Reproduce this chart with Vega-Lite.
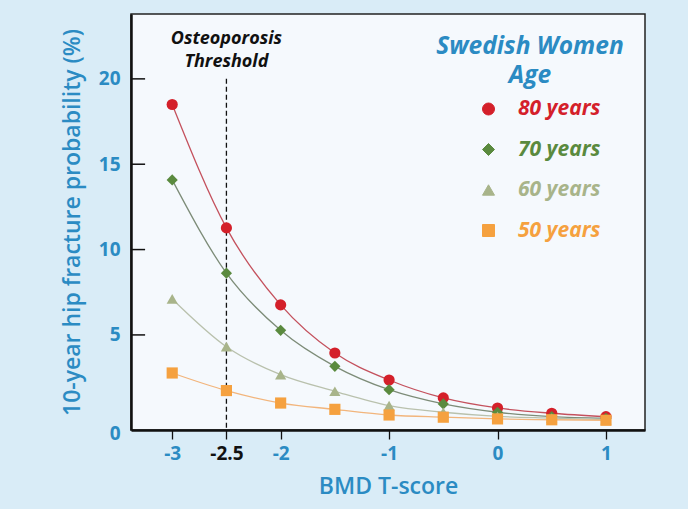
{
  "$schema": "https://vega.github.io/schema/vega-lite/v6.json",
  "autosize": "none",
  "width": 514,
  "height": 416,
  "padding": {"left": 131, "top": 14, "right": 43, "bottom": 79},
  "background": "#d9ecf7",
  "config": {
    "view": {"fill": "#f5f9fd", "stroke": "#222222", "strokeWidth": 1.5},
    "font": "Open Sans"
  },
  "datasets": {
    "curves": [
      {"t": -3, "p": 18.5, "age": "80 years"}, {"t": -2.5, "p": 11.27, "age": "80 years"}, {"t": -2, "p": 6.76, "age": "80 years"}, {"t": -1.5, "p": 3.94, "age": "80 years"}, {"t": -1, "p": 2.36, "age": "80 years"}, {"t": -0.5, "p": 1.31, "age": "80 years"}, {"t": 0, "p": 0.72, "age": "80 years"}, {"t": 0.5, "p": 0.41, "age": "80 years"}, {"t": 1, "p": 0.21, "age": "80 years"},
      {"t": -3, "p": 14.08, "age": "70 years"}, {"t": -2.5, "p": 8.62, "age": "70 years"}, {"t": -2, "p": 5.27, "age": "70 years"}, {"t": -1.5, "p": 3.16, "age": "70 years"}, {"t": -1, "p": 1.79, "age": "70 years"}, {"t": -0.5, "p": 0.96, "age": "70 years"}, {"t": 0, "p": 0.47, "age": "70 years"}, {"t": 0.5, "p": 0.21, "age": "70 years"}, {"t": 1, "p": 0.12, "age": "70 years"},
      {"t": -3, "p": 7.11, "age": "60 years"}, {"t": -2.5, "p": 4.31, "age": "60 years"}, {"t": -2, "p": 2.67, "age": "60 years"}, {"t": -1.5, "p": 1.7, "age": "60 years"}, {"t": -1, "p": 0.86, "age": "60 years"}, {"t": -0.5, "p": 0.47, "age": "60 years"}, {"t": 0, "p": 0.23, "age": "60 years"}, {"t": 0.5, "p": 0.13, "age": "60 years"}, {"t": 1, "p": 0.04, "age": "60 years"},
      {"t": -3, "p": 2.77, "age": "50 years"}, {"t": -2.5, "p": 1.74, "age": "50 years"}, {"t": -2, "p": 1.01, "age": "50 years"}, {"t": -1.5, "p": 0.64, "age": "50 years"}, {"t": -1, "p": 0.31, "age": "50 years"}, {"t": -0.5, "p": 0.18, "age": "50 years"}, {"t": 0, "p": 0.08, "age": "50 years"}, {"t": 0.5, "p": 0.03, "age": "50 years"}, {"t": 1, "p": 0.0, "age": "50 years"}
    ],
    "threshold": [{"t": -2.5, "top": 20, "bottom": -0.57, "label": "Osteoporosis\nThreshold", "ly": 22.34}],
    "yticks": [{"v": 5}, {"v": 10}, {"v": 15}, {"v": 20}]
  },
  "layer": [
    {
      "data": {"name": "yticks"},
      "mark": {"type": "rule", "color": "#111111", "strokeWidth": 1.5},
      "encoding": {
        "y": {"field": "v", "type": "quantitative"},
        "x": {"datum": -3.38, "type": "quantitative"},
        "x2": {"datum": -3.25}
      }
    },
    {
      "data": {"name": "threshold"},
      "mark": {"type": "rule", "color": "#111111", "strokeWidth": 1.3, "strokeDash": [5, 3], "clip": false},
      "encoding": {
        "x": {"field": "t", "type": "quantitative"},
        "y": {"field": "top", "type": "quantitative"},
        "y2": {"field": "bottom"}
      }
    },
    {
      "data": {"name": "threshold"},
      "mark": {"type": "text", "font": "Open Sans", "fontSize": 18, "fontWeight": "bold", "fontStyle": "italic", "color": "#111111", "lineBreak": "\n", "lineHeight": 23, "align": "center", "baseline": "middle"},
      "encoding": {
        "x": {"field": "t", "type": "quantitative"},
        "y": {"field": "ly", "type": "quantitative"},
        "text": {"field": "label"}
      }
    },
    {
      "data": {"name": "curves"},
      "mark": {"type": "line", "strokeWidth": 1.3, "interpolate": "monotone"},
      "encoding": {
        "x": {"field": "t", "type": "quantitative"},
        "y": {"field": "p", "type": "quantitative"},
        "detail": {"field": "age"},
        "stroke": {"field": "age", "type": "nominal", "legend": null,
          "scale": {"range": ["#f2b57c", "#b9c1ad", "#7d8c78", "#c4515d"]}}
      }
    },
    {
      "data": {"name": "curves"},
      "mark": {"type": "point", "filled": true, "opacity": 1, "size": 125},
      "encoding": {
        "x": {"field": "t", "type": "quantitative",
          "scale": {"domain": [-3.38, 1.36], "nice": false, "zero": false},
          "axis": {
            "title": "BMD T-score", "titleFontSize": 23, "titleFontWeight": 600, "titleColor": "#2b8bc3", "titlePadding": 12,
            "values": [-3, -2.5, -2, -1, 0, 1], "labelExpr": "'' + datum.value",
            "labelFontSize": 19, "labelFontWeight": "bold", "labelPadding": 5,
            "labelColor": {"condition": {"test": "datum.value == -2.5", "value": "#111111"}, "value": "#2b8bc3"},
            "domainColor": "#111111", "domainWidth": 2.5, "tickColor": "#111111", "tickSize": 9, "tickWidth": 1.3, "grid": false
          }
        },
        "y": {"field": "p", "type": "quantitative",
          "scale": {"domain": [-0.57, 23.8], "nice": false, "zero": false},
          "axis": {
            "title": "10-year hip fracture probability (%)", "titleFontSize": 23, "titleFontWeight": 600, "titleColor": "#2b8bc3", "titlePadding": 14,
            "values": [0, 5, 10, 15, 20], "ticks": false,
            "labelFontSize": 19, "labelFontWeight": "bold", "labelColor": "#2b8bc3", "labelPadding": 11,
            "labelOffset": {"condition": {"test": "datum.value == 0", "value": 13}, "value": 0},
            "domainColor": "#111111", "domainWidth": 2.5, "grid": false
          }
        },
        "color": {"field": "age", "type": "nominal",
          "scale": {"domain": ["80 years", "70 years", "60 years", "50 years"], "range": ["#d4202a", "#5a8a3e", "#a8b48a", "#f5a13f"]},
          "legend": {
            "title": ["Swedish Women", "Age"], "orient": "top-right", "offset": 21, "titleLimit": 400,
            "titleFontSize": 24.5, "titleFontWeight": "bold", "titleFontStyle": "italic", "titleColor": "#2b8bc3",
            "titleAlign": "center", "titleAnchor": "middle", "titleLineHeight": 29, "titlePadding": 10,
            "labelFontSize": 21, "labelFontWeight": "bold", "labelFontStyle": "italic", "labelOffset": 19, "labelLimit": 300,
            "labelColor": {"expr": "scale('color', datum.value)"},
            "symbolStrokeColor": {"expr": "scale('color', datum.value)"},
            "symbolSize": 144, "symbolStrokeWidth": 1, "symbolOffset": 19, "rowPadding": 18.5
          }
        },
        "shape": {"field": "age", "type": "nominal",
          "scale": {"domain": ["80 years", "70 years", "60 years", "50 years"], "range": ["circle", "diamond", "triangle-up", "square"]},
          "legend": {
            "title": ["Swedish Women", "Age"], "orient": "top-right", "offset": 21, "titleLimit": 400,
            "titleFontSize": 24.5, "titleFontWeight": "bold", "titleFontStyle": "italic", "titleColor": "#2b8bc3",
            "titleAlign": "center", "titleAnchor": "middle", "titleLineHeight": 29, "titlePadding": 10,
            "labelFontSize": 21, "labelFontWeight": "bold", "labelFontStyle": "italic", "labelOffset": 19, "labelLimit": 300,
            "labelColor": {"expr": "scale('color', datum.value)"},
            "symbolStrokeColor": {"expr": "scale('color', datum.value)"},
            "symbolSize": 144, "symbolStrokeWidth": 1, "symbolOffset": 19, "rowPadding": 18.5
          }
        }
      }
    }
  ]
}
